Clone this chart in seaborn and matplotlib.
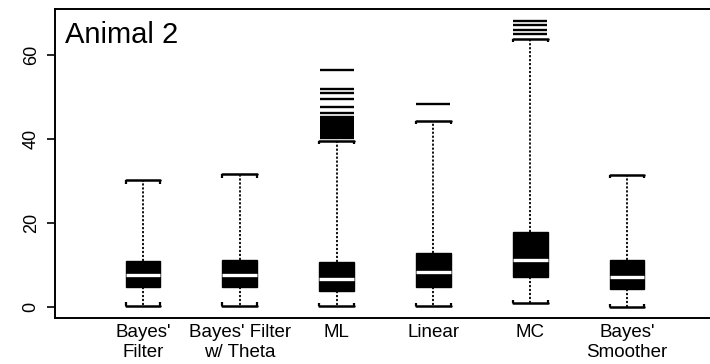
import matplotlib
matplotlib.use("Agg")
import matplotlib.pyplot as plt
import seaborn as sns

# Decoding error summaries per reconstruction method
methods = ["Bayes'\nFilter", "Bayes' Filter\nw/ Theta", "ML", "Linear", "MC", "Bayes'\nSmoother"]
whisker_low = [0.3, 0.3, 0.2, 0.2, 0.9, 0.0]
q1 = [4.7, 4.7, 3.9, 4.8, 7.2, 4.4]
medians = [7.5, 7.7, 6.7, 8.3, 11.2, 7.2]
q3 = [11.0, 11.3, 10.7, 12.8, 17.9, 11.2]
whisker_high = [30.2, 31.6, 39.6, 44.4, 63.8, 31.4]
outliers = [
    [],
    [],
    [56.4, 51.9, 50.9, 49.5, 47.5, 46.3, 45.3, 45.0, 44.6, 44.2, 43.8, 43.4,
     43.0, 42.6, 42.2, 41.8, 41.4, 41.0, 40.6, 40.2],
    [48.4],
    [68.2, 67.1, 66.0, 64.9],
    [],
]
y_ticks = [0, 20, 40, 60]

sns.set_theme(style="ticks")
plt.rcParams["font.family"] = ["Liberation Sans", "DejaVu Sans"]
plt.rcParams["text.color"] = "black"
plt.rcParams["xtick.color"] = "black"
plt.rcParams["ytick.color"] = "black"

fig = plt.figure(figsize=(7.1, 3.64), dpi=100)
ax = fig.add_axes([55 / 710, 1 - 318 / 364, 1 - 55 / 710, (318 - 9) / 364])

stats = []
for i, name in enumerate(methods):
    stats.append(dict(label=name, whislo=whisker_low[i], q1=q1[i], med=medians[i],
                      q3=q3[i], whishi=whisker_high[i], fliers=outliers[i]))

box_w = 0.36
positions = list(range(len(methods)))
ax.bxp(
    stats, positions=positions, widths=box_w, capwidths=box_w, patch_artist=True,
    showfliers=True,
    boxprops=dict(facecolor="black", edgecolor="black", linewidth=1.0),
    medianprops=dict(color="white", linewidth=2.4, solid_capstyle="butt"),
    whiskerprops=dict(color="black", linestyle=(0, (1.2, 1.0)), linewidth=1.3),
    capprops=dict(color="black", linewidth=1.8),
    flierprops=dict(marker="_", markersize=25, markeredgewidth=1.7,
                    markeredgecolor="black"),
)

# Small end ticks on the whisker caps
tick_len = 0.8
for i in positions:
    xs = [i - box_w / 2, i + box_w / 2]
    ax.vlines(xs, whisker_low[i], whisker_low[i] + tick_len, color="black", lw=1.6)
    ax.vlines(xs, whisker_high[i] - tick_len, whisker_high[i], color="black", lw=1.6)

ax.set_xlim(-0.909, 5.857)
ax.set_ylim(-2.62, 70.95)
ax.set_yticks(y_ticks)
ax.set_yticklabels([str(t) for t in y_ticks], rotation=90, va="center", fontsize=13,
                   color="black")
ax.set_xticks(positions)
ax.set_xticklabels(methods, fontsize=13.5, linespacing=1.3, color="black")
ax.tick_params(axis="x", length=0, pad=4)
ax.tick_params(axis="y", length=6, width=1.2, pad=5, color="black")

for side in ["left", "bottom", "top"]:
    ax.spines[side].set_visible(True)
    ax.spines[side].set_color("black")
    ax.spines[side].set_linewidth(1.4)
ax.spines["right"].set_visible(False)
ax.grid(False)
ax.set_facecolor("white")

ax.text(0.015, 0.915, "Animal 2", transform=ax.transAxes, fontsize=21,
        ha="left", va="center", color="black")

fig.savefig("out.png", dpi=100, facecolor="white")
